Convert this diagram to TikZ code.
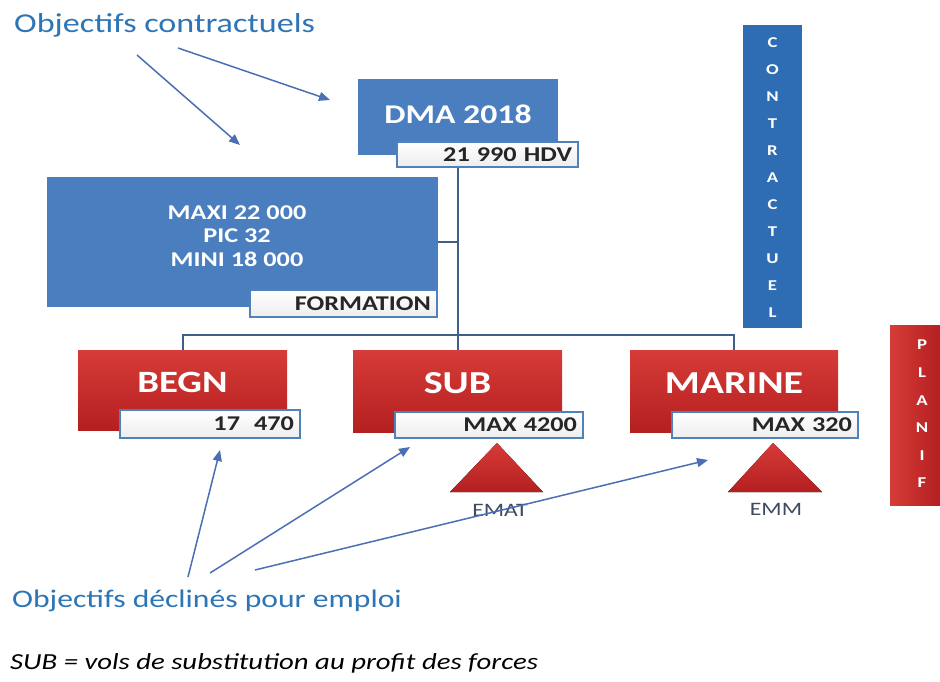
\documentclass[tikz,border=0pt]{standalone}
\usepackage{fontspec}
\setmainfont{Carlito}[FakeStretch=1.25]
\usetikzlibrary{arrows.meta}
\definecolor{boxblue}{HTML}{4A7EBE}
\definecolor{barblue}{HTML}{2E6CB4}
\definecolor{redtop}{HTML}{D63C38}
\definecolor{redbot}{HTML}{B41F20}
\definecolor{lblborder}{HTML}{4F81BD}
\definecolor{conncol}{HTML}{3E5F8A}
\definecolor{arrowcol}{HTML}{4A6FB5}
\definecolor{titlecol}{HTML}{2E75B6}
\definecolor{darktext}{HTML}{262626}
\definecolor{emcol}{HTML}{404A60}
\tikzset{
  fs/.style={font=\fontsize{#1}{#1}\selectfont},
  bluebox/.style={fill=boxblue, inner sep=0pt},
  redbox/.style={top color=redtop, bottom color=redbot, inner sep=0pt},
  boxtext/.style={text=white, font=\bfseries\fontsize{#1}{#1}\selectfont, inner sep=0pt},
  lblbox/.style={draw=lblborder, line width=2pt, top color=white, bottom color=gray!14,
     align=right, text=darktext, font=\bfseries\fontsize{21}{21}\selectfont,
     inner xsep=6pt, inner ysep=0pt},
  conn/.style={draw=conncol, line width=2pt},
  objarrow/.style={draw=arrowcol, line width=1.5pt, -{Triangle[length=11pt,width=9pt]}},
  barletter/.style={text=white, font=\bfseries\fontsize{15}{15}\selectfont, inner sep=0pt},
  tri/.style={top color=redtop, bottom color=redbot},
}
\begin{document}
\begin{tikzpicture}[x=1pt,y=-1pt]
\useasboundingbox[fill=white] (0,0) rectangle (940,682);

% titles
\node[anchor=base west, text=titlecol, fs=27.3, inner sep=0pt] (t1) at (14,33) {Objectifs contractuels};
\node[anchor=base west, text=titlecol, fs=25.3, inner sep=0pt] (t2) at (12,607) {Objectifs déclinés pour emploi};
\node[anchor=base west, text=black, font=\itshape\fontsize{23}{23}\selectfont, inner sep=0pt] (t3) at (10,669) {SUB = vols de substitution au profit des forces};

% side bars
\node[fill=barblue, minimum width=59pt, minimum height=303pt, inner sep=0pt] (contr) at (772.5,176.5) {};
\foreach \l [count=\i from 0] in {C,O,N,T,R,A,C,T,U,E,L}
  \node[barletter] (ct\i) at (772.5, 43+27*\i) {\l};
\node[left color=redtop, right color=redbot, minimum width=50pt, minimum height=180pt, inner sep=0pt] (planif) at (915,415) {};
\foreach \l [count=\i from 0] in {P,L,A,N,I,F}
  \node[barletter] (pl\i) at (922, 345+27.6*\i) {\l};

% hub of the connectors
\coordinate (hub) at (458,335);

% DMA
\node[bluebox, minimum width=200pt, minimum height=76pt] (dma) at (458,117) {};
\node[boxtext=27] (dmaT) at (458,114) {DMA 2018};

% FORMATION
\node[bluebox, minimum width=391pt, minimum height=130pt] (form) at (242.5,242) {};
\node[boxtext=21, align=center, font=\bfseries\fontsize{21}{23.5}\selectfont] (formT) at (237,236) {MAXI 22 000\\PIC 32\\MINI 18 000};

% red boxes
\node[redbox, minimum width=209pt, minimum height=80pt] (begn) at (182.5,390) {};
\node[boxtext=31] (begnT) at (182.5,382) {BEGN};
\node[redbox, minimum width=209pt, minimum height=82pt] (sub) at (457.5,391) {};
\node[boxtext=32] (subT) at (457.5,383) {SUB};
\node[redbox, minimum width=208pt, minimum height=82pt] (mar) at (734,391) {};
\node[boxtext=32] (marT) at (734,383) {MARINE};

% connectors
\draw[conn] (hub |- dma.south) -- (hub |- sub.north);
\draw[conn] (begn.north) -- (begn.north |- hub) -- (mar.north |- hub) -- (mar.north);
\draw[conn] (form.east) -- (form.east -| hub);

% labels
\node[lblbox, text width=169pt, minimum height=25pt] (dmaL) at (487.5,154.5) {21 990 HDV};
\node[lblbox, text width=175pt, minimum height=27pt] (formL) at (343.5,303.5) {FORMATION};
\node[lblbox, text width=168pt, minimum height=28pt] (begnL) at (210,424) {17\ \ 470};
\node[lblbox, text width=176pt, minimum height=26pt] (subL) at (489,425) {MAX 4200};
\node[lblbox, text width=174pt, minimum height=26pt] (marL) at (765,425) {MAX 320};

% triangles
\fill[tri] (497,443) -- (543,492) -- (450,492) -- cycle;
\fill[tri] (773,443) -- (822,492) -- (728,492) -- cycle;
\node[text=emcol, fs=19, inner sep=0pt] (emat) at (500,510) {EMAT};
\node[text=emcol, fs=19, inner sep=0pt] (emm) at (776,509) {EMM};

% arrows
\coordinate (a1s) at (178,48);  \coordinate (a1e) at (330,100);
\coordinate (a2s) at (137,55);  \coordinate (a2e) at (240,145);
\coordinate (a3s) at (188,577); \coordinate (a3e) at (220,450);
\coordinate (a4s) at (210,573); \coordinate (a4e) at (410,447);
\coordinate (a5s) at (255,570); \coordinate (a5e) at (708,460);
\draw[objarrow] (a1s) -- (a1e);
\draw[objarrow] (a2s) -- (a2e);
\draw[objarrow] (a3s) -- (a3e);
\draw[objarrow] (a4s) -- (a4e);
\draw[objarrow] (a5s) -- (a5e);
\end{tikzpicture}
\end{document}
